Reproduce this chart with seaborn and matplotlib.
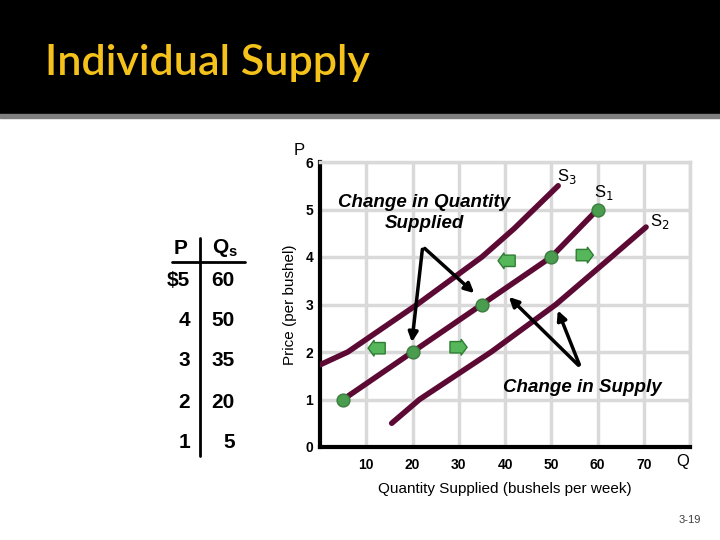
import numpy as np
import pandas as pd
import seaborn as sns
import matplotlib.pyplot as plt
import matplotlib.patches as mpatches

# supply schedule (table + S1)
price = [5, 4, 3, 2, 1]
qty_s1 = [60, 50, 35, 20, 5]

# shifted curves
s3_q = [0, 6, 21, 35, 42, 51.5]
s3_p = [1.73, 2, 3, 4, 4.6, 5.5]
s2_q = [15.5, 21.5, 37, 51, 63, 70.5]
s2_p = [0.5, 1, 2, 3, 4, 4.63]

x_ticks = [10, 20, 30, 40, 50, 60, 70]
y_ticks = [0, 1, 2, 3, 4, 5, 6]

maroon = '#5c0a33'
green = '#4a9d4f'

sns.set_style('white')
plt.rcParams['font.family'] = ['Liberation Sans', 'DejaVu Sans']
plt.rcParams['text.color'] = 'black'
plt.rcParams['axes.labelcolor'] = 'black'
plt.rcParams['xtick.color'] = 'black'
plt.rcParams['ytick.color'] = 'black'

fig = plt.figure(figsize=(7.2, 5.4), dpi=100)

# slide header
fig.patches.append(mpatches.Rectangle((0, 1 - 113 / 540), 1, 113 / 540, transform=fig.transFigure,
                                      color='black', zorder=0))
fig.patches.append(mpatches.Rectangle((0, 1 - 118 / 540), 1, 4 / 540, transform=fig.transFigure,
                                      color='#7f7f7f', zorder=0))
fig.text(45 / 720, 1 - 63 / 540, 'Individual Supply', color='#f5c21b', fontsize=31,
         family='Lato', fontweight='semibold', va='center', ha='left')

# schedule table
fig.text(181 / 720, 1 - 248 / 540, 'P', fontsize=15, fontweight='bold', ha='center', va='center')
fig.text(225 / 720, 1 - 248 / 540, r'Q$_\mathregular{s}$', fontsize=15, fontweight='bold', ha='center', va='center')
fig.add_artist(plt.Line2D([172 / 720, 245 / 720], [1 - 262 / 540, 1 - 262 / 540], color='black', lw=2))
fig.add_artist(plt.Line2D([200 / 720, 200 / 720], [1 - 238 / 540, 1 - 456 / 540], color='black', lw=2))
row_y = [280, 320, 361, 402, 443]
for i, (p, q) in enumerate(zip(price, qty_s1)):
    lab = '$%d' % p if i == 0 else str(p)
    fig.text(190 / 720, 1 - row_y[i] / 540, lab, fontsize=15, fontweight='bold', ha='right', va='center')
    fig.text(235 / 720, 1 - row_y[i] / 540, str(q), fontsize=15, fontweight='bold', ha='right', va='center')

ax = fig.add_axes([320 / 720, 93 / 540, 370 / 720, 285 / 540])

# curves
sns.lineplot(x=s3_q, y=s3_p, ax=ax, color=maroon, lw=4, sort=False, zorder=3)
sns.lineplot(x=qty_s1, y=price, ax=ax, color=maroon, lw=4, sort=False, zorder=3)
sns.lineplot(x=s2_q, y=s2_p, ax=ax, color=maroon, lw=4, sort=False, zorder=3)
sns.scatterplot(x=qty_s1, y=price, ax=ax, color=green, s=85, edgecolor='#3a7d3e', linewidth=1, zorder=5)

ax.set_xlim(0, 80)
ax.set_ylim(0, 6)
ax.set_xticks(np.arange(10, 90, 10))
ax.set_xticklabels([str(t) for t in x_ticks] + [''])
ax.set_yticks(y_ticks)
ax.set_yticklabels([str(t) for t in y_ticks])
ax.grid(True, color='#d9d9d9', lw=2.5)
ax.set_axisbelow(True)
ax.tick_params(length=0, labelsize=10, pad=8)
ax.tick_params(axis='y', pad=5)
for t in ax.get_xticklabels() + ax.get_yticklabels():
    t.set_fontweight('bold')
for s in ['left', 'bottom']:
    ax.spines[s].set_color('black')
    ax.spines[s].set_linewidth(3)
for s in ['top', 'right']:
    ax.spines[s].set_color('#d9d9d9')
    ax.spines[s].set_linewidth(2.5)

ax.set_ylabel('Price (per bushel)', fontsize=11, labelpad=6)
ax.set_xlabel('Quantity Supplied (bushels per week)', fontsize=11, labelpad=7)
ax.text(-0.055, 1.04, 'P', transform=ax.transAxes, fontsize=12, ha='center', va='center')
ax.text(78.5, -0.3, 'Q', fontsize=12, ha='center', va='center')

# curve labels
ax.text(53.3, 5.7, r'S$_3$', fontsize=12, ha='center', va='center')
ax.text(61.3, 5.35, r'S$_1$', fontsize=12, ha='center', va='center')
ax.text(73.5, 4.74, r'S$_2$', fontsize=12, ha='center', va='center')

# callouts
ax.text(22.5, 4.93, 'Change in Quantity\nSupplied', fontsize=13.5, fontweight='bold', fontstyle='italic',
        ha='center', va='center', linespacing=1.3)
for tip in [(19.8, 2.15), (33.8, 3.2)]:
    ax.annotate('', xy=tip, xytext=(22.2, 4.22),
                arrowprops=dict(arrowstyle='-|>', lw=2.5, color='black', mutation_scale=14))
ax.text(56.8, 1.26, 'Change in Supply', fontsize=13.5, fontweight='bold', fontstyle='italic',
        ha='center', va='center')
for tip in [(40.4, 3.2), (51.2, 2.93)]:
    ax.annotate('', xy=tip, xytext=(56.3, 1.68),
                arrowprops=dict(arrowstyle='-|>', lw=2.5, color='black', mutation_scale=14))

# small green shift arrows
arrow_x = [12.3, 29.9, 40.4, 57.2]
arrow_y = [2.08, 2.1, 3.92, 4.04]
arrow_dir = [-1, 1, -1, 1]
for x, y, d in zip(arrow_x, arrow_y, arrow_dir):
    ax.add_patch(mpatches.FancyArrow(x - d * 1.8, y, d * 3.7, 0, width=0.24, head_width=0.34,
                                     head_length=1.3, length_includes_head=True,
                                     facecolor='#55b65a', edgecolor='#2f7d33', lw=1, zorder=6))

fig.text(690 / 720, 1 - 520 / 540, '3-19', fontsize=8, color='#404040', ha='center', va='center')

fig.savefig('out.png', dpi=100)
